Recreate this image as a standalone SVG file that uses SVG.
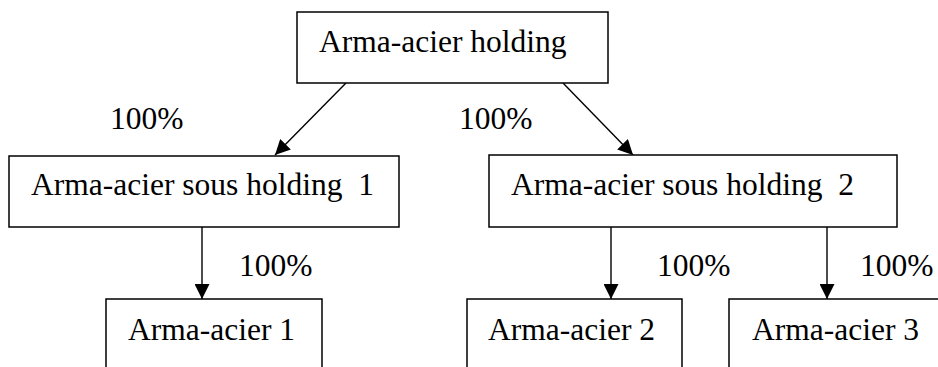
<svg xmlns="http://www.w3.org/2000/svg" width="938" height="367" viewBox="0 0 938 367">
<style>
  .box { fill: #fff; stroke: #000; stroke-width: 1.5; }
  .t { font-family: "Liberation Serif", "Times New Roman", serif; font-size: 31.5px; fill: #000; white-space: pre; }
  .c { stroke: #000; stroke-width: 1.4; fill: none; marker-end: url(#ah); }
</style>
<defs>
  <marker id="ah" viewBox="0 0 10 10" refX="10" refY="5" markerWidth="15" markerHeight="15" markerUnits="userSpaceOnUse" orient="auto">
    <path d="M0,0 L10,5 L0,10 z" fill="#000"/>
  </marker>
</defs>
<rect width="938" height="367" fill="#fff"/>
<g id="connectors">
  <line class="c" x1="346" y1="83" x2="275" y2="155"/>
  <line class="c" x1="563" y1="83" x2="633" y2="155"/>
  <line class="c" x1="202" y1="227" x2="202" y2="299"/>
  <line class="c" x1="611" y1="227" x2="611" y2="299"/>
  <line class="c" x1="827" y1="227" x2="827" y2="299"/>
  <text class="t" x="110" y="129">100%</text>
  <text class="t" x="459" y="129">100%</text>
  <text class="t" x="239" y="276">100%</text>
  <text class="t" x="657" y="276">100%</text>
  <text class="t" x="860" y="276">100%</text>
</g>
<g id="n_holding">
  <rect class="box" x="297" y="12" width="311" height="71"/>
  <text class="t" x="319" y="52">Arma-acier holding</text>
</g>
<g id="n_sous1">
  <rect class="box" x="9" y="156" width="390" height="71"/>
  <text class="t" x="31" y="195">Arma-acier sous holding  1</text>
</g>
<g id="n_sous2">
  <rect class="box" x="489" y="155" width="408" height="72"/>
  <text class="t" x="511" y="195">Arma-acier sous holding  2</text>
</g>
<g id="n_a1">
  <rect class="box" x="106" y="299" width="216" height="80"/>
  <text class="t" x="128" y="340">Arma-acier 1</text>
</g>
<g id="n_a2">
  <rect class="box" x="467" y="299" width="215" height="80"/>
  <text class="t" x="488" y="340">Arma-acier 2</text>
</g>
<g id="n_a3">
  <rect class="box" x="729" y="299" width="220" height="80"/>
  <text class="t" x="752" y="340">Arma-acier 3</text>
</g>
</svg>
